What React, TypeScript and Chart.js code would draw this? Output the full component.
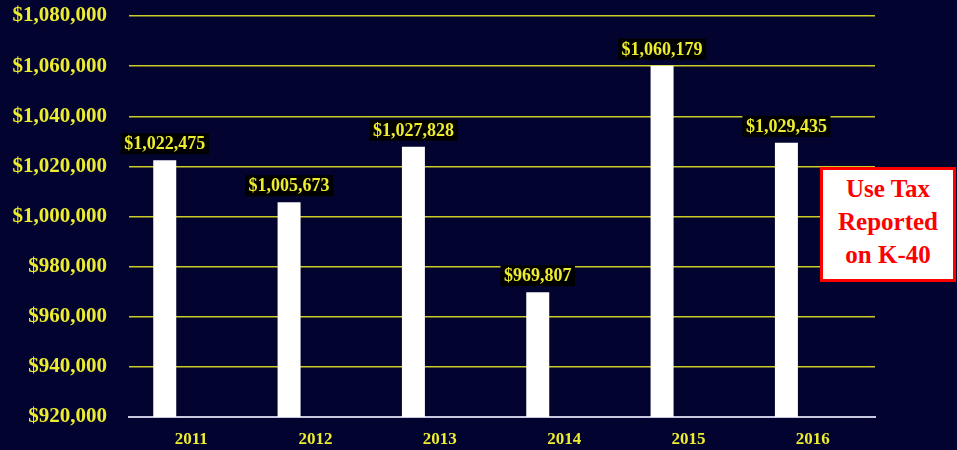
import { useEffect, useRef } from "react";
import { Chart, registerables } from "chart.js";

Chart.register(...registerables);

const years = ["2011", "2012", "2013", "2014", "2015", "2016"];
const useTaxValues = [1022475, 1005673, 1027828, 969807, 1060179, 1029435];
const emptySeries = [null, null, null, null, null, null];
const yMin = 920000;
const yMax = 1080000;
const yStep = 20000;
const noteLines = ["Use Tax", "Reported", "on K-40"];

const BG = "#03032f";
const YELLOW = "#ecec30";
const SERIF = '"Liberation Serif", "Times New Roman", serif';

const fmt = (v: number) => "$" + v.toLocaleString("en-US");

const valueLabels = {
  id: "valueLabels",
  afterDatasetsDraw(chart: any) {
    const ctx = chart.ctx;
    const meta = chart.getDatasetMeta(0);
    ctx.save();
    ctx.font = `bold 18px ${SERIF}`;
    ctx.textAlign = "center";
    ctx.textBaseline = "middle";
    meta.data.forEach((el: any, i: number) => {
      const text = fmt(useTaxValues[i]);
      const w = ctx.measureText(text).width + 7;
      const h = 21;
      const bottom = el.y - 6;
      ctx.fillStyle = "#000000";
      ctx.fillRect(el.x - w / 2, bottom - h, w, h);
      ctx.fillStyle = YELLOW;
      ctx.fillText(text, el.x, bottom - h / 2 + 1);
    });
    ctx.restore();
  },
};

export default function App() {
  const ref = useRef<HTMLCanvasElement>(null);
  useEffect(() => {
    if (!ref.current) return;
    const chart = new Chart(ref.current, {
      type: "bar",
      data: {
        labels: years,
        datasets: [
          {
            data: useTaxValues,
            backgroundColor: "#ffffff",
            borderWidth: 0,
            categoryPercentage: 0.85,
            barPercentage: 0.435,
          },
          {
            data: emptySeries as any,
            backgroundColor: "#ffffff",
            borderWidth: 0,
            categoryPercentage: 0.85,
            barPercentage: 0.435,
          },
        ],
      },
      options: {
        animation: false,
        responsive: false,
        devicePixelRatio: 1,
        layout: { padding: { top: 16, right: 82, bottom: 0, left: 0 } },
        plugins: { legend: { display: false }, tooltip: { enabled: false } },
        scales: {
          x: {
            grid: { display: false, drawTicks: false },
            border: { display: true, color: "#c8c8e0", width: 2 },
            ticks: {
              color: YELLOW,
              font: { family: SERIF, size: 17, weight: "bold" },
              padding: 12,
            },
            afterFit: (s: any) => {
              s.height = 33;
              s.paddingLeft = 0;
              s.paddingRight = 0;
            },
          },
          y: {
            min: yMin,
            max: yMax,
            ticks: {
              stepSize: yStep,
              color: YELLOW,
              font: { family: SERIF, size: 21, weight: "bold" },
              padding: 22,
              callback: (v: any) => fmt(Number(v)),
            },
            grid: { color: "#cccc28", lineWidth: 1.5, drawTicks: false },
            border: { display: false },
            afterFit: (s: any) => {
              s.width = 129;
              s.paddingTop = 0;
              s.paddingBottom = 0;
            },
          },
        },
      },
      plugins: [valueLabels],
    });
    return () => chart.destroy();
  }, []);

  return (
    <div
      style={{
        position: "fixed",
        left: 0,
        top: 0,
        width: 957,
        height: 450,
        background: BG,
        overflow: "hidden",
      }}
    >
      <canvas ref={ref} width={957} height={450} style={{ display: "block" }} />
      <div
        style={{
          position: "absolute",
          left: 820,
          top: 167,
          width: 130,
          height: 107,
          border: "3px solid #ff0000",
          background: "#ffffff",
          color: "#ff0000",
          fontFamily: SERIF,
          fontWeight: "bold",
          fontSize: 25,
          lineHeight: "33px",
          textAlign: "center",
          paddingTop: 2,
          boxSizing: "content-box",
        }}
      >
        {noteLines.map((l) => (
          <div key={l}>{l}</div>
        ))}
      </div>
    </div>
  );
}
